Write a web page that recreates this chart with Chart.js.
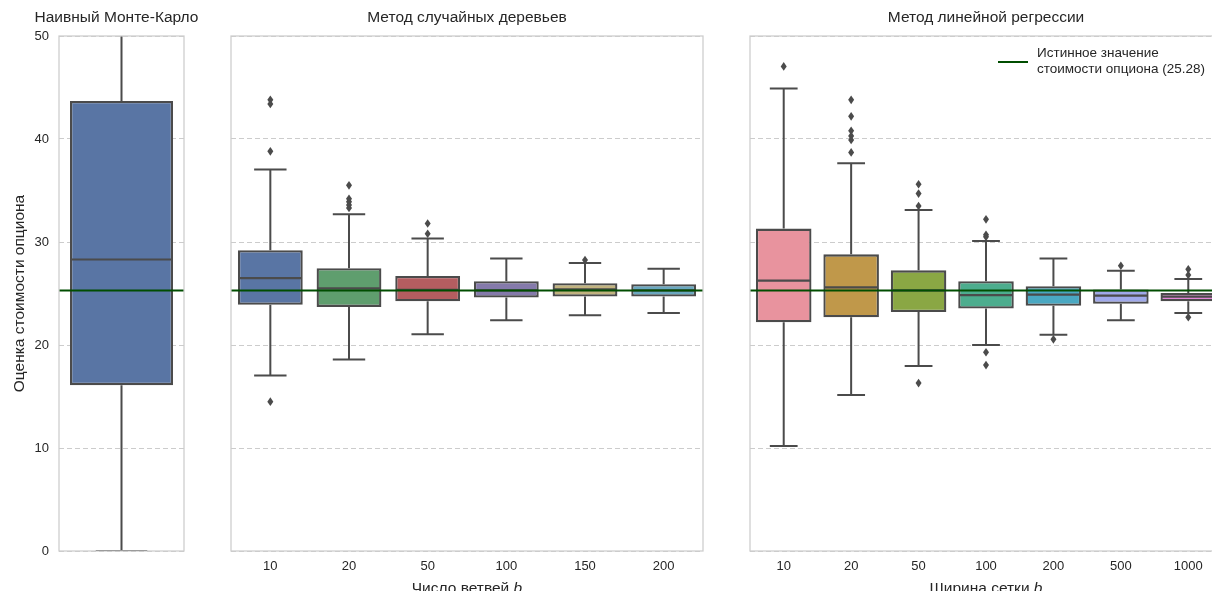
<!DOCTYPE html>
<html>
<head>
<meta charset="utf-8">
<script src="https://cdn.jsdelivr.net/npm/chart.js@4.4.1/dist/chart.umd.min.js"></script>
<style>
  html, body { margin: 0; padding: 0; background: #fff; overflow: hidden; }
  #wrap { position: relative; width: 1212px; height: 591px; overflow: hidden; }
  #wrap canvas { position: absolute; top: 0; }
</style>
</head>
<body>
<div id="wrap">
  <canvas id="mc" width="243" height="591" style="left:0px"></canvas>
  <canvas id="trees" width="504" height="591" style="left:215px"></canvas>
  <canvas id="reg" width="502" height="591" style="left:735px"></canvas>
</div>
<script>
// истинное значение
const trueValue = 25.28;

// наивный Монте-Карло
const mcCategories = [""];
const mcQ1 = [16.1];
const mcMedian = [28.3];
const mcQ3 = [43.7];
const mcLow = [0];
const mcHigh = [72];
const mcOutliers = [[]];
const mcColors = ["#5975A4"];

// метод случайных деревьев
const treeCategories = ["10", "20", "50", "100", "150", "200"];
const treeQ1 = [23.9, 23.7, 24.25, 24.6, 24.7, 24.7];
const treeMedian = [26.5, 25.5, 25.35, 25.3, 25.4, 25.3];
const treeQ3 = [29.2, 27.45, 26.7, 26.2, 26.0, 25.9];
const treeLow = [17.05, 18.6, 21.05, 22.4, 22.9, 23.1];
const treeHigh = [37.05, 32.7, 30.35, 28.4, 27.95, 27.4];
const treeOutliers = [[43.8, 43.4, 38.8, 14.5], [35.5, 34.2, 33.9, 33.6, 33.3], [31.8, 30.8], [], [28.25], []];
const treeColors = ["#5975A4", "#5F9E6E", "#B55D60", "#857AAB", "#C1B37F", "#6AA8C0"];

// метод линейной регрессии
const regCategories = ["10", "20", "50", "100", "200", "500", "1000"];
const regQ1 = [22.2, 22.7, 23.2, 23.55, 23.8, 24.0, 24.25];
const regMedian = [26.25, 25.6, 25.3, 24.85, 24.9, 24.8, 24.7];
const regQ3 = [31.3, 28.8, 27.25, 26.2, 25.7, 25.4, 25.05];
const regLow = [10.2, 15.15, 17.95, 20.0, 21.0, 22.4, 23.1];
const regHigh = [44.9, 37.65, 33.1, 30.1, 28.4, 27.2, 26.4];
const regOutliers = [[47.05], [43.8, 42.2, 40.8, 40.3, 39.9, 38.7], [35.6, 34.7, 33.5, 16.3], [32.2, 30.7, 30.5, 19.3, 18.05], [20.55], [27.7], [27.35, 26.8, 22.7]];
const regColors = ["#E8939E", "#C0984A", "#8AA744", "#4CAD8E", "#4AA8C2", "#A0A9EA", "#E386D8"];

const lineGray = "#4b4b4b";
const gridGray = "#cccccc";
const textColor = "#262626";
const trueColor = "#004d00";
const fontFamily = '"Liberation Sans", Arial, sans-serif';

Chart.defaults.font.family = fontFamily;
Chart.defaults.color = textColor;

const boxExtras = {
  id: "boxExtras",
  beforeDatasetsDraw(chart, args, opts) {
    const { ctx, chartArea: a, scales: { y } } = chart;
    const meta = chart.getDatasetMeta(0);
    ctx.save();
    ctx.beginPath();
    ctx.rect(a.left, a.top, a.right - a.left, a.bottom - a.top);
    ctx.clip();
    ctx.strokeStyle = lineGray;
    ctx.lineWidth = 2;
    opts.low.forEach((lo, i) => {
      const bar = meta.data[i];
      const cx = bar.x;
      const cap = bar.width / 4;
      const yHi = y.getPixelForValue(opts.high[i]);
      const yLo = y.getPixelForValue(lo);
      ctx.beginPath();
      ctx.moveTo(cx, yHi);
      ctx.lineTo(cx, y.getPixelForValue(opts.q3[i]));
      ctx.moveTo(cx, y.getPixelForValue(opts.q1[i]));
      ctx.lineTo(cx, yLo);
      ctx.moveTo(cx - cap, yHi);
      ctx.lineTo(cx + cap, yHi);
      ctx.moveTo(cx - cap, yLo);
      ctx.lineTo(cx + cap, yLo);
      ctx.stroke();
    });
    ctx.restore();
  },
  afterDatasetsDraw(chart, args, opts) {
    const { ctx, chartArea: a, scales: { y } } = chart;
    const meta = chart.getDatasetMeta(0);
    ctx.save();
    ctx.beginPath();
    ctx.rect(a.left, a.top, a.right - a.left, a.bottom - a.top);
    ctx.clip();
    ctx.strokeStyle = lineGray;
    ctx.fillStyle = lineGray;
    ctx.lineWidth = 2.2;
    opts.median.forEach((m, i) => {
      const bar = meta.data[i];
      const half = bar.width / 2;
      const py = y.getPixelForValue(m);
      ctx.beginPath();
      ctx.moveTo(bar.x - half + 1, py);
      ctx.lineTo(bar.x + half - 1, py);
      ctx.stroke();
      opts.outliers[i].forEach(v => {
        const oy = y.getPixelForValue(v);
        ctx.beginPath();
        ctx.moveTo(bar.x, oy - 4.3);
        ctx.lineTo(bar.x + 3, oy);
        ctx.lineTo(bar.x, oy + 4.3);
        ctx.lineTo(bar.x - 3, oy);
        ctx.closePath();
        ctx.fill();
      });
    });
    // линия истинного значения
    const ty = y.getPixelForValue(trueValue);
    ctx.strokeStyle = trueColor;
    ctx.lineWidth = 2;
    ctx.beginPath();
    ctx.moveTo(a.left, ty);
    ctx.lineTo(a.right, ty);
    ctx.stroke();
    ctx.restore();
  },
  afterDraw(chart, args, opts) {
    const { ctx, chartArea: a } = chart;
    ctx.save();
    ctx.strokeStyle = gridGray;
    ctx.lineWidth = 1.25;
    ctx.strokeRect(a.left, a.top, a.right - a.left, a.bottom - a.top);

    ctx.fillStyle = textColor;
    const normal = "15.5px " + fontFamily;
    const italic = "italic 15.5px " + fontFamily;

    // заголовок панели
    ctx.font = normal;
    ctx.textAlign = "center";
    ctx.textBaseline = "middle";
    ctx.fillText(opts.title, (a.left + a.right) / 2 + opts.titleShift, 18);

    // подпись оси x с курсивной b
    if (opts.xTitle) {
      ctx.textBaseline = "alphabetic";
      ctx.textAlign = "left";
      ctx.font = normal;
      const w1 = ctx.measureText(opts.xTitle).width;
      ctx.font = italic;
      const w2 = ctx.measureText("b").width;
      const x0 = (a.left + a.right) / 2 - (w1 + w2) / 2;
      ctx.font = normal;
      ctx.fillText(opts.xTitle, x0, 593);
      ctx.font = italic;
      ctx.fillText("b", x0 + w1, 593);
    }

    if (opts.legend) {
      const lx = a.right - 224;
      const ly = 62;
      ctx.strokeStyle = trueColor;
      ctx.lineWidth = 2;
      ctx.beginPath();
      ctx.moveTo(lx, ly);
      ctx.lineTo(lx + 30, ly);
      ctx.stroke();
      ctx.font = "13.5px " + fontFamily;
      ctx.textAlign = "left";
      ctx.textBaseline = "middle";
      ctx.fillText("Истинное значение", lx + 39, ly - 8.5);
      ctx.fillText("стоимости опциона (25.28)", lx + 39, ly + 7.5);
    }
    ctx.restore();
  }
};

function makePanel(id, p) {
  return new Chart(document.getElementById(id), {
    type: "bar",
    data: {
      labels: p.categories,
      datasets: [{
        data: p.q1.map((v, i) => [v, p.q3[i]]),
        backgroundColor: p.colors,
        borderColor: lineGray,
        borderWidth: 2.3,
        borderSkipped: false,
        categoryPercentage: 0.8,
        barPercentage: 1.03
      }]
    },
    options: {
      responsive: false,
      animation: false,
      layout: { padding: { left: p.padLeft, right: p.padRight, top: 36, bottom: 0 } },
      plugins: {
        legend: { display: false },
        tooltip: { enabled: false },
        title: { display: false },
        boxExtras: {
          q1: p.q1, q3: p.q3, median: p.median, low: p.low, high: p.high,
          outliers: p.outliers, xTitle: p.xTitle, legend: p.legend,
          title: p.title, titleShift: p.titleShift
        }
      },
      scales: {
        x: {
          grid: { display: false, drawTicks: false },
          border: { display: false },
          ticks: { color: textColor, font: { size: 13 }, padding: 8 },
          afterFit: s => { s.height = 40; }
        },
        y: {
          min: 0,
          max: 50,
          grid: { color: gridGray, lineWidth: 1, drawTicks: false },
          border: { display: false, dash: [5, 3] },
          ticks: { display: p.showY, stepSize: 10, color: textColor, font: { size: 13 }, padding: 10 },
          title: {
            display: p.showY,
            text: "Оценка стоимости опциона",
            color: textColor,
            font: { size: 15.5 },
            padding: { top: 10.5, bottom: 0 }
          },
          afterFit: s => { s.width = p.yWidth; }
        }
      }
    },
    plugins: [boxExtras]
  });
}

makePanel("mc", {
  categories: mcCategories, q1: mcQ1, median: mcMedian, q3: mcQ3, low: mcLow, high: mcHigh,
  outliers: mcOutliers, colors: mcColors, title: "Наивный Монте-Карло", titleShift: -5,
  showY: true, yWidth: 59, padLeft: 0, padRight: 59, xTitle: null, legend: false
});
makePanel("trees", {
  categories: treeCategories, q1: treeQ1, median: treeMedian, q3: treeQ3, low: treeLow, high: treeHigh,
  outliers: treeOutliers, colors: treeColors, title: "Метод случайных деревьев", titleShift: 0,
  showY: false, yWidth: 0, padLeft: 16, padRight: 16, xTitle: "Число ветвей ", legend: false
});
makePanel("reg", {
  categories: regCategories, q1: regQ1, median: regMedian, q3: regQ3, low: regLow, high: regHigh,
  outliers: regOutliers, colors: regColors, title: "Метод линейной регрессии", titleShift: 0,
  showY: false, yWidth: 0, padLeft: 15, padRight: 15, xTitle: "Ширина сетки ", legend: true
});
</script>
</body>
</html>
